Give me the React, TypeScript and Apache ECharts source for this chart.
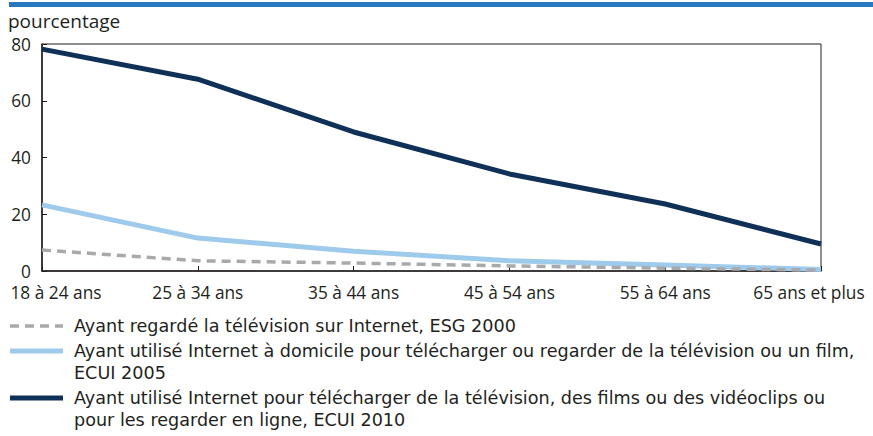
import React, { useEffect, useRef } from "react";
import * as echarts from "echarts";

const categories = ["18 à 24 ans", "25 à 34 ans", "35 à 44 ans", "45 à 54 ans", "55 à 64 ans", "65 ans et plus"];
const esg2000 = [7.4, 3.6, 2.8, 1.8, 1.0, 0.3];
const ecui2005 = [23.3, 11.6, 7.0, 3.6, 2.1, 0.5];
const ecui2010 = [78.2, 67.6, 49.0, 34.2, 23.6, 9.5];
const yTicks = [0, 20, 40, 60, 80];

const legendLabels = [
  ["Ayant regardé la télévision sur Internet, ESG 2000"],
  ["Ayant utilisé Internet à domicile pour télécharger ou regarder de la télévision ou un film,", "ECUI 2005"],
  ["Ayant utilisé Internet pour télécharger de la télévision, des films ou des vidéoclips ou", "pour les regarder en ligne, ECUI 2010"],
];

const FONT = "'Open Sans', 'Noto Sans', sans-serif";
const LEGEND_FONT = "'DejaVu Sans', sans-serif";
const TEXT = "#231f20";
const GRAY = "#a7a9ac";
const LIGHT = "#9ecaec";
const DARK = "#0f3157";
const AXIS_FS = 17.3;
const TEXT_FS = 19;
const LEGEND_FS = 17.6;

export default function App() {
  const ref = useRef<HTMLDivElement>(null);
  useEffect(() => {
    document.body.style.margin = "0";
    const chart = echarts.init(ref.current!, null, { renderer: "svg" });
    const lastIdx = categories.length - 1;
    const legendY = [326, 351, 398];
    const legendStyles = [
      { stroke: GRAY, lineWidth: 3.5, lineDash: [9, 6] },
      { stroke: LIGHT, lineWidth: 5 },
      { stroke: DARK, lineWidth: 5 },
    ];
    const graphics: any[] = [
      { type: "rect", shape: { x: 9, y: 2, width: 864, height: 5 }, style: { fill: "#2878be" } },
      { type: "text", x: 8, y: 21, style: { text: "pourcentage", font: `${TEXT_FS}px ${FONT}`, fill: TEXT, verticalAlign: "middle" } },
    ];
    legendLabels.forEach((lines, i) => {
      graphics.push({ type: "line", shape: { x1: 10, y1: legendY[i], x2: 63, y2: legendY[i] }, style: { ...legendStyles[i], lineCap: "butt" } });
      lines.forEach((t, j) => {
        graphics.push({
          type: "text",
          x: 74,
          y: legendY[i] + j * 21.6,
          style: { text: t, font: `${LEGEND_FS}px ${LEGEND_FONT}`, fill: TEXT, verticalAlign: "middle", lineHeight: 20 },
        });
      });
    });
    chart.setOption({
      animation: false,
      grid: { left: 42, right: 52, top: 44, bottom: 165, show: true, borderColor: TEXT, borderWidth: 1 },
      xAxis: {
        type: "category",
        data: categories,
        boundaryGap: false,
        axisLine: { lineStyle: { color: TEXT, width: 1.5 } },
        axisTick: { inside: true, length: 5, lineStyle: { color: TEXT } },
        axisLabel: {
          interval: 0,
          color: TEXT,
          fontFamily: FONT,
          fontSize: AXIS_FS,
          margin: 13,
          formatter: (v: string, i: number) => (i === 0 ? `{first|${v}}` : i === lastIdx ? `{last|${v}}` : `{mid|${v}}`),
          rich: {
            first: { padding: [0, 0, 0, 28], color: TEXT, fontFamily: FONT, fontSize: AXIS_FS },
            last: { padding: [0, 24, 0, 0], color: TEXT, fontFamily: FONT, fontSize: AXIS_FS },
            mid: { color: TEXT, fontFamily: FONT, fontSize: AXIS_FS },
          },
        },
      },
      yAxis: {
        type: "value",
        min: yTicks[0],
        max: yTicks[yTicks.length - 1],
        interval: 20,
        axisLine: { show: true, lineStyle: { color: TEXT, width: 1.5 } },
        axisTick: { show: true, inside: true, length: 5, lineStyle: { color: TEXT } },
        splitLine: { show: false },
        axisLabel: { color: TEXT, fontFamily: FONT, fontSize: AXIS_FS, margin: 11 },
      },
      series: [
        { type: "line", data: esg2000, symbol: "none", lineStyle: { color: GRAY, width: 3.5, type: [9, 6] }, z: 3 },
        { type: "line", data: ecui2005, symbol: "none", lineStyle: { color: LIGHT, width: 5 }, z: 2 },
        { type: "line", data: ecui2010, symbol: "none", lineStyle: { color: DARK, width: 5 }, z: 4 },
      ],
      graphic: graphics,
    });
    return () => chart.dispose();
  }, []);
  return <div ref={ref} style={{ width: 873, height: 436 }} />;
}
